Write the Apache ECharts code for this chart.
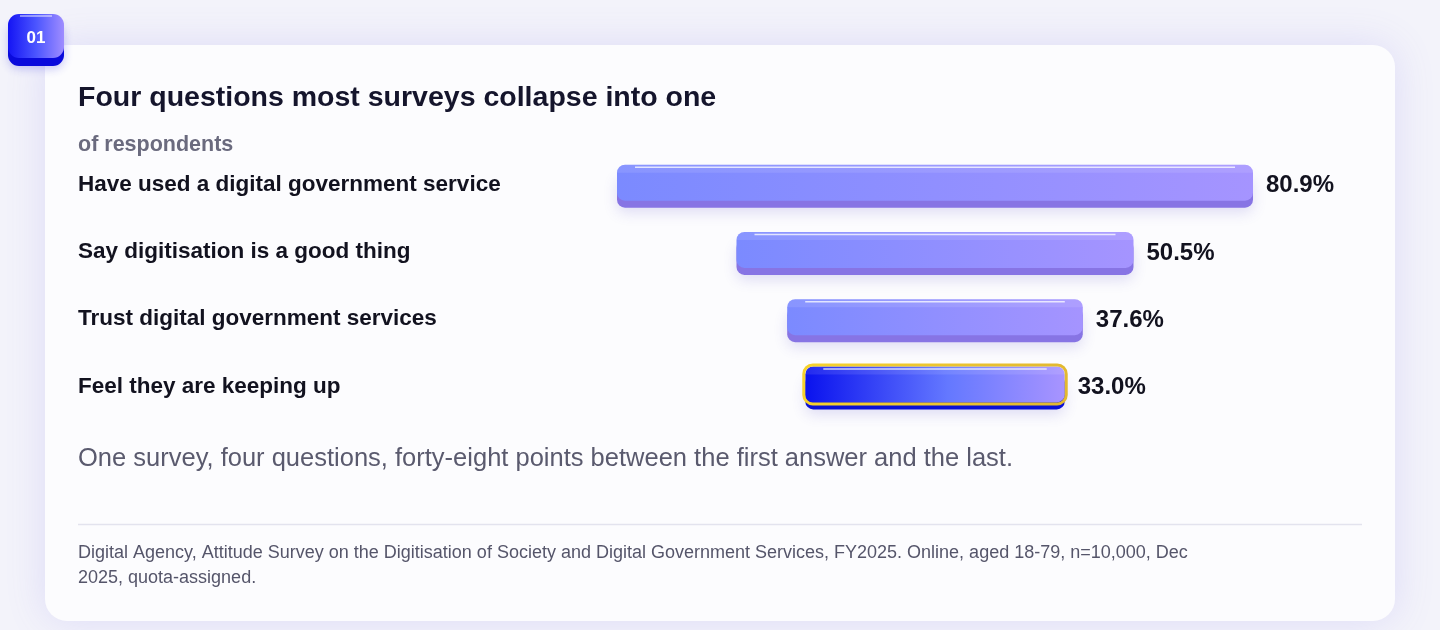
<!DOCTYPE html>
<html>
<head>
<meta charset="utf-8">
<script src="https://cdn.jsdelivr.net/npm/echarts@6/dist/echarts.min.js"></script>
<style>
  html, body { margin: 0; padding: 0; background: #f3f3fa; }
  #chart { width: 1440px; height: 630px; }
</style>
</head>
<body>
<div id="chart"></div>
<script>
// ---- data ----
const categories = [
  'Have used a digital government service',
  'Say digitisation is a good thing',
  'Trust digital government services',
  'Feel they are keeping up'
];
const values = [80.9, 50.5, 37.6, 33.0];
const highlightIndex = 3;
const titleText = 'Four questions most surveys collapse into one';
const subtitleText = 'of respondents';
const noteText = 'One survey, four questions, forty-eight points between the first answer and the last.';
const sourceText = 'Digital Agency, Attitude Survey on the Digitisation of Society and Digital Government Services, FY2025. Online, aged 18-79, n=10,000, Dec\n2025, quota-assigned.';
const badgeText = '01';

const MAX = Math.max(...values);
const FONT = '"Liberation Sans", Arial, Helvetica, sans-serif';

const chart = echarts.init(document.getElementById('chart'), null, { renderer: 'canvas' });

function renderBar(params, api) {
  const v = api.value(0);
  const idx = api.value(1);
  const L = api.coord([(MAX - v) / 2, idx]);
  const R = api.coord([(MAX + v) / 2, idx]);
  const cy = L[1];
  const x0 = L[0];
  const w = R[0] - L[0];
  const top = cy - 20;
  const bodyH = 36;
  const hl = idx === highlightIndex;
  const bodyFill = hl
    ? new echarts.graphic.LinearGradient(0, 0, 1, 0, [
        { offset: 0, color: '#0a12ee' },
        { offset: 0.55, color: '#6478ff' },
        { offset: 1, color: '#a894ff' }
      ])
    : new echarts.graphic.LinearGradient(0, 0, 1, 0, [
        { offset: 0, color: '#7b8aff' },
        { offset: 1, color: '#a594ff' }
      ]);
  const children = [
    {
      type: 'rect',
      shape: { x: x0, y: top + 8, width: w, height: 35, r: 8 },
      style: {
        fill: hl ? '#0a10d6' : '#8774e4',
        shadowBlur: 14, shadowOffsetY: 5, shadowColor: 'rgba(90,80,200,0.18)'
      }
    },
    {
      type: 'rect',
      shape: { x: x0, y: top, width: w, height: bodyH, r: 8 },
      style: { fill: bodyFill }
    },
    {
      type: 'rect',
      shape: { x: x0, y: top, width: w, height: 8, r: [8, 8, 0, 0] },
      style: { fill: 'rgba(255,255,255,0.10)' }
    },
    {
      type: 'line',
      shape: { x1: x0 + 18, y1: top + 2.5, x2: x0 + w - 18, y2: top + 2.5 },
      style: { stroke: 'rgba(255,255,255,0.75)', lineWidth: 1.5 }
    }
  ];
  if (hl) {
    children.push({
      type: 'rect',
      shape: { x: x0 - 1.5, y: top - 1.5, width: w + 3, height: bodyH + 3, r: 9 },
      style: {
        fill: null,
        stroke: new echarts.graphic.LinearGradient(0, 0, 1, 0, [
          { offset: 0, color: '#f6d22c' },
          { offset: 1, color: '#e2b830' }
        ]),
        lineWidth: 3
      }
    });
  }
  children.push({
    type: 'text',
    style: {
      x: R[0] + 13, y: cy + 1,
      text: v.toFixed(1) + '%',
      fill: '#12121f',
      font: 'bold 24px ' + FONT,
      textAlign: 'left', textVerticalAlign: 'middle'
    }
  });
  return { type: 'group', children };
}

const option = {
  backgroundColor: '#f3f3fa',
  animation: false,
  grid: { left: 617, right: 187, top: 151, height: 269 },
  xAxis: {
    type: 'value', min: 0, max: MAX, show: false
  },
  yAxis: {
    type: 'category', data: categories, inverse: true,
    axisLine: { show: false }, axisTick: { show: false }, splitLine: { show: false },
    axisLabel: {
      margin: 539, align: 'left', padding: [6, 0, 0, 0],
      color: '#12121f', fontSize: 22.5, fontWeight: 'bold', fontFamily: FONT
    }
  },
  graphic: [
    {
      type: 'rect', z: -10,
      shape: { x: 45, y: 45, width: 1350, height: 576, r: 22 },
      style: { fill: '#fcfcfe', shadowBlur: 40, shadowColor: 'rgba(110,100,235,0.16)' }
    },
    {
      type: 'rect', z: 10,
      shape: { x: 8, y: 20, width: 56, height: 46, r: 11 },
      style: { fill: '#0a0adc', shadowBlur: 10, shadowOffsetY: 3, shadowColor: 'rgba(40,40,220,0.25)' }
    },
    {
      type: 'rect', z: 10,
      shape: { x: 8, y: 14, width: 56, height: 44, r: 11 },
      style: {
        fill: new echarts.graphic.LinearGradient(0, 0, 1, 0, [
          { offset: 0, color: '#1414f4' },
          { offset: 0.5, color: '#4b55ff' },
          { offset: 1, color: '#9f8dff' }
        ])
      }
    },
    {
      type: 'line', z: 10,
      shape: { x1: 20, y1: 16, x2: 52, y2: 16 },
      style: { stroke: 'rgba(255,255,255,0.6)', lineWidth: 1.5 }
    },
    {
      type: 'text', z: 11,
      style: {
        x: 36, y: 38, text: badgeText, fill: '#ffffff',
        font: 'bold 17px ' + FONT, textAlign: 'center', textVerticalAlign: 'middle'
      }
    },
    {
      type: 'text',
      style: {
        x: 78, y: 98, text: titleText, fill: '#15152c',
        font: 'bold 28.5px ' + FONT, textVerticalAlign: 'middle'
      }
    },
    {
      type: 'text',
      style: {
        x: 78, y: 145, text: subtitleText, fill: '#6a6a7e',
        font: 'bold 21.5px ' + FONT, textVerticalAlign: 'middle'
      }
    },
    {
      type: 'text',
      style: {
        x: 78, y: 459, text: noteText, fill: '#5a5a6e',
        font: '25.5px ' + FONT, textVerticalAlign: 'middle'
      }
    },
    {
      type: 'line',
      shape: { x1: 78, y1: 524.5, x2: 1362, y2: 524.5 },
      style: { stroke: '#e3e3ee', lineWidth: 1.5 }
    },
    {
      type: 'text',
      style: {
        x: 78, y: 541, text: sourceText, fill: '#55556a',
        font: '18px ' + FONT, lineHeight: 25, textVerticalAlign: 'top'
      }
    }
  ],
  series: [{
    type: 'custom',
    renderItem: renderBar,
    data: values.map((v, i) => [v, i]),
    encode: { x: 0, y: 1 },
    z: 5
  }]
};
chart.setOption(option);
</script>
</body>
</html>
